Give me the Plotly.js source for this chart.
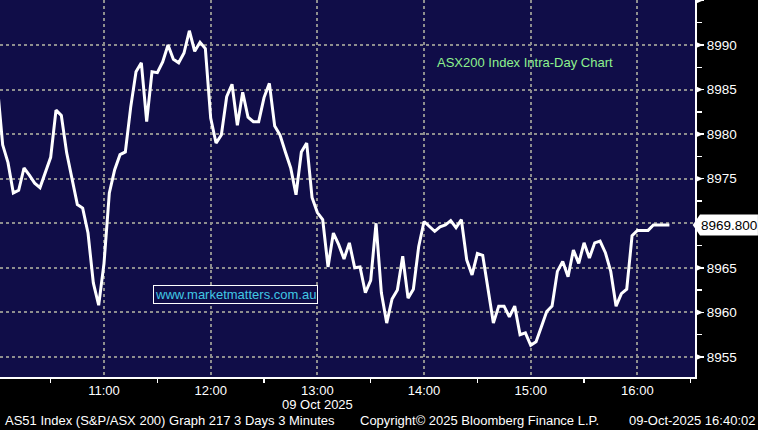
<!DOCTYPE html>
<html><head><meta charset="utf-8">
<script src="https://cdn.plot.ly/plotly-3.0.1.min.js"></script>
<style>html,body{margin:0;padding:0;background:#000;} #chart{width:758px;height:430px;}</style>
</head><body><div id="chart"></div>
<script>
const day = '2025-10-09';
const times = ['10:00','10:03','10:06','10:09','10:12','10:15','10:18','10:21','10:24','10:27','10:30','10:33','10:36','10:39','10:42','10:45','10:48','10:51','10:54','10:57',
'11:00','11:03','11:06','11:09','11:12','11:15','11:18','11:21','11:24','11:27','11:30','11:33','11:36','11:39','11:42','11:45','11:48','11:51','11:54','11:57',
'12:00','12:03','12:06','12:09','12:12','12:15','12:18','12:21','12:24','12:27','12:30','12:33','12:36','12:39','12:42','12:45','12:48','12:51','12:54','12:57',
'13:00','13:03','13:06','13:09','13:12','13:15','13:18','13:21','13:24','13:27','13:30','13:33','13:36','13:39','13:42','13:45','13:48','13:51','13:54','13:57',
'14:00','14:03','14:06','14:09','14:12','14:15','14:18','14:21','14:24','14:27','14:30','14:33','14:36','14:39','14:42','14:45','14:48','14:51','14:54','14:57',
'15:00','15:03','15:06','15:09','15:12','15:15','15:18','15:21','15:24','15:27','15:30','15:33','15:36','15:39','15:42','15:45','15:48','15:51','15:54','15:57',
'16:00','16:03','16:06','16:09','16:12','16:15','16:18'];
const values = [8985.5,8978.8,8976.8,8973.4,8973.7,8976.2,8975.4,8974.5,8974.0,8975.7,8977.4,8982.7,8982.1,8977.9,8975.0,8972.1,8971.7,8968.9,8963.3,8960.8,
8965.5,8973.4,8976.0,8977.7,8978.0,8983.0,8987.0,8988.0,8981.4,8987.0,8986.9,8988.1,8990.0,8988.4,8988.0,8989.1,8991.6,8989.3,8990.3,8989.6,
8981.8,8979.0,8979.9,8984.2,8985.6,8981.0,8984.7,8981.9,8981.4,8981.4,8984.1,8985.7,8980.9,8979.9,8978.0,8976.2,8973.2,8978.0,8979.0,8972.9,
8971.2,8970.4,8965.1,8968.9,8967.6,8966.0,8967.8,8965.0,8965.1,8962.2,8963.6,8970.0,8962.2,8958.8,8961.5,8962.5,8966.3,8961.6,8962.6,8967.4,
8970.2,8969.6,8969.1,8969.6,8969.8,8970.3,8969.5,8970.4,8965.9,8964.2,8966.6,8966.4,8962.5,8958.8,8960.7,8960.7,8959.5,8960.7,8957.5,8957.7,
8956.3,8956.7,8958.4,8960.1,8960.7,8964.6,8965.7,8964.0,8967.0,8965.5,8967.8,8966.1,8967.8,8968.0,8966.7,8964.6,8960.7,8962.1,8962.6,8968.6,
8969.2,8969.2,8969.2,8969.8,8969.8,8969.8,8969.8];
const yTickVals = [8955,8960,8965,8970,8975,8980,8985,8990,8995];
const yTickText = ['8955','8960','8965','','8975','8980','8985','8990',''];
const xRange = ['10:01:30','16:32:24'];
const yRange = [8952.75, 8995.05];
const titleText = 'ASX200 Index Intra-Day Chart';
const watermark = 'www.marketmatters.com.au';
const dateLabel = '09 Oct 2025';
const dateLabelTime = '13:00';
const footerLeft = 'AS51 Index (S&P/ASX 200) Graph 217 3 Days 3 Minutes';
const footerMid = 'Copyright\u00a9 2025 Bloomberg Finance L.P.';
const footerRight = '09-Oct-2025 16:40:02';

const FONT = 'Liberation Sans, Arial, sans-serif';
const x = times.map(t => day + ' ' + t);
const last = values[values.length - 1];

const trace = {
  type: 'scatter', mode: 'lines', x: x, y: values,
  line: {color: '#ffffff', width: 3}, hoverinfo: 'skip'
};

const shapes = [];
yTickVals.forEach(v => {
  shapes.push({type: 'path', xref: 'paper', yref: 'y', layer: 'above',
    path: `M 1,${v - 0.4} L 1.0115,${v} L 1,${v + 0.4} Z`,
    fillcolor: '#ffffff', line: {width: 0}});
});
shapes.push({type: 'path', xref: 'paper', yref: 'y', layer: 'above',
  path: `M 0.9967,${last} L 1.0072,${last + 1.18} L 1.0906,${last + 1.18} L 1.0906,${last - 1.18} L 1.0072,${last - 1.18} Z`,
  fillcolor: '#ffffff', line: {width: 0}});

const layout = {
  width: 758, height: 430,
  margin: {l: 0, r: 63, t: 0, b: 53, pad: 0},
  paper_bgcolor: '#000000', plot_bgcolor: '#100d48',
  showlegend: false,
  font: {family: FONT, size: 13, color: '#ffffff'},
  xaxis: {
    type: 'date', range: xRange.map(t => day + ' ' + t),
    tickmode: 'linear', tick0: day + ' 10:00', dtick: 3600000,
    tickformat: '%H:%M', ticks: '', showgrid: true,
    gridcolor: '#8e8e8e', gridwidth: 2, griddash: 'dot',
    showline: true, linecolor: '#ffffff', linewidth: 2,
    tickfont: {family: FONT, size: 13, color: '#ffffff'},
    minor: {dtick: 1800000, tick0: day + ' 10:00', ticks: 'outside', ticklen: 4, tickwidth: 1.5, tickcolor: '#ffffff', showgrid: false},
    zeroline: false, fixedrange: true
  },
  yaxis: {
    side: 'right', range: yRange,
    tickmode: 'array', tickvals: yTickVals, ticktext: yTickText,
    ticks: 'outside', ticklen: 7, tickwidth: 1.5, tickcolor: '#ffffff',
    showgrid: true, gridcolor: '#8e8e8e', gridwidth: 2, griddash: 'dot',
    showline: true, linecolor: '#ffffff', linewidth: 2,
    tickfont: {family: FONT, size: 13.5, color: '#ffffff'},
    minor: {tickmode: 'linear', tick0: 8952.5, dtick: 2.5, ticks: 'outside', ticklen: 5, tickwidth: 1.5, tickcolor: '#ffffff', showgrid: false},
    zeroline: false, fixedrange: true
  },
  shapes: shapes,
  annotations: [
    {xref: 'paper', yref: 'paper', x: 0.755, y: 0.8355, text: titleText, showarrow: false,
     font: {family: FONT, size: 13, color: '#8ef28e'}, xanchor: 'center', yanchor: 'middle'},
    {xref: 'paper', yref: 'paper', x: 0.339, y: 0.219, text: watermark, showarrow: false,
     font: {family: FONT, size: 13, color: '#41c8e4'}, xanchor: 'center', yanchor: 'middle',
     bordercolor: '#ffffff', borderwidth: 1, borderpad: 1, bgcolor: '#100d48'},
    {xref: 'paper', yref: 'y', x: 1.049, y: last, text: last.toFixed(3), showarrow: false,
     font: {family: FONT, size: 13.5, color: '#000000'}, xanchor: 'center', yanchor: 'middle'},
    {xref: 'x', yref: 'paper', x: day + ' ' + dateLabelTime, y: -0.074, text: dateLabel, showarrow: false,
     font: {family: FONT, size: 13, color: '#ffffff'}, xanchor: 'center', yanchor: 'middle'},
    {xref: 'paper', yref: 'paper', x: 0.0043, y: -0.1167, text: footerLeft, showarrow: false,
     font: {family: FONT, size: 13, color: '#ffffff'}, xanchor: 'left', yanchor: 'middle'},
    {xref: 'paper', yref: 'paper', x: 0.515, y: -0.1167, text: footerMid, showarrow: false,
     font: {family: FONT, size: 13, color: '#ffffff'}, xanchor: 'left', yanchor: 'middle'},
    {xref: 'paper', yref: 'paper', x: 1.089, y: -0.1167, text: footerRight, showarrow: false,
     font: {family: FONT, size: 13, color: '#ffffff'}, xanchor: 'right', yanchor: 'middle'}
  ]
};

Plotly.newPlot('chart', [trace], layout, {displayModeBar: false, staticPlot: true});
</script>
</body></html>
